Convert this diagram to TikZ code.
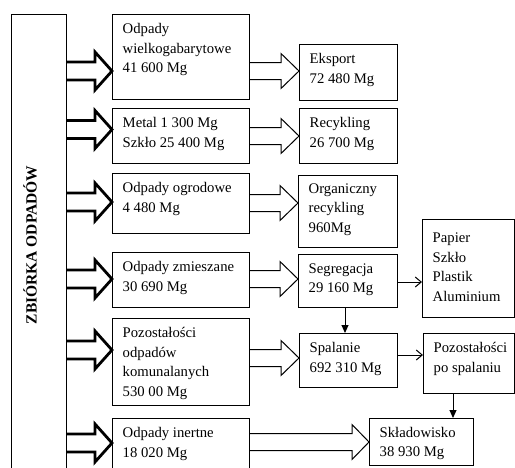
\documentclass[tikz,border=0pt]{standalone}
\usepackage{fontspec}
\setmainfont{Liberation Serif}
\usetikzlibrary{calc,arrows.meta}

% box with its text set from the top left corner
% #1 name, #2 x1, #3 y1, #4 x2, #5 y2, #6 text offset from top, #7 text
\newcommand\wbox[7]{%
  \node[box, minimum width={(#4-#2)*1pt}, minimum height={(#5-#3)*1pt},
        anchor=north west] (#1) at (#2,#3) {};
  \node[txt, anchor=north west] (#1-t) at ($(#1.north west)+(10.5,#6)$) {#7};}

% hollow block arrow: #1 style, #2 start, #3 tip, #4 body half, #5 head half, #6 head length
\newcommand\hollow[6]{%
  \draw[#1] let \p1=(#2), \p2=(#3) in
    (\x1,\y2+#4) -- (\x2-#6,\y2+#4) -- (\x2-#6,\y2+#5) -- (\x2,\y2)
    -- (\x2-#6,\y2-#5) -- (\x2-#6,\y2-#4) -- (\x1,\y2-#4);}

\begin{document}
\begin{tikzpicture}[x=1pt,y=-1pt,
  box/.style={draw, line width=1pt, inner sep=0pt, outer sep=0pt},
  txt/.style={inner sep=0pt, align=left, font=\fontsize{14.7}{19.5}\selectfont},
  bigarrow/.style={line width=2.8pt, line join=miter, miter limit=10},
  smallarrow/.style={line width=1pt, line join=miter, miter limit=10},
  flow/.style={-{Straight Barb[length=6pt,width=10pt]}, line width=1pt},
  drop/.style={-{Triangle[length=8pt,width=7pt]}, line width=1pt}]
\useasboundingbox (0,0) rectangle (515,467);
\clip (0,0) rectangle (515,467);

% collection column
\node[box, minimum width=55pt, minimum height=480pt, anchor=north west] (zb) at (11,14) {};
\node[rotate=90, inner sep=0pt, font=\bfseries\fontsize{15.5}{18}\selectfont] (zbt) at (30,245) {ZBIÓRKA ODPADÓW};

% waste streams
\wbox{b1}{112}{14}{249}{99}{9.4}{Odpady\\wielkogabarytowe\\41 600 Mg}
\wbox{b2}{112}{108}{249}{163}{9.4}{Metal 1 300 Mg\\Szkło 25 400 Mg}
\wbox{b3}{112}{173}{249}{233}{9.4}{Odpady ogrodowe\\4 480 Mg}
\wbox{b4}{112}{252}{249}{307}{9.4}{Odpady zmieszane\\30 690 Mg}
\wbox{b5}{112}{318}{249}{405}{9.4}{Pozostałości\\odpadów\\komunalanych\\530 00 Mg}
\wbox{b6}{112}{418}{249}{490}{9.4}{Odpady inertne\\18 020 Mg}

% destinations
\wbox{e}{299}{44}{397}{100}{9.4}{Eksport\\72 480 Mg}
\wbox{r}{299}{108}{397}{163}{9.4}{Recykling\\26 700 Mg}
\wbox{o}{298}{175}{397}{247}{8.4}{Organiczny\\recykling\\960Mg}
\wbox{s}{298}{254}{397}{307}{9.4}{Segregacja\\29 160 Mg}
\wbox{sp}{299}{333}{397}{387}{9.4}{Spalanie\\692 310 Mg}
\wbox{p}{422}{219}{514}{317}{14}{Papier\\Szkło\\Plastik\\Aluminium}
\wbox{ps}{423}{333}{514}{393}{9.4}{Pozostałości\\po spalaniu}
\wbox{sk}{369}{418}{473}{465}{9}{Składowisko\\38 930 Mg}

% thick block arrows from the collection column
\hollow{bigarrow}{zb.east}{b1.west |- 0,71}{9pt}{19pt}{17pt}
\hollow{bigarrow}{zb.east}{b2.west |- 0,129.5}{9pt}{19pt}{17pt}
\hollow{bigarrow}{zb.east}{b3.west |- 0,202}{9pt}{19pt}{17pt}
\hollow{bigarrow}{zb.east}{b4.west |- 0,279}{9pt}{19pt}{17pt}
\hollow{bigarrow}{zb.east}{b5.west |- 0,350}{9pt}{19pt}{17pt}
\hollow{bigarrow}{zb.east}{b6.west |- 0,443}{9pt}{19pt}{17pt}

% thin block arrows to the destinations
\hollow{smallarrow}{b1.east}{e.west |- 0,71}{8.5pt}{17.5pt}{18pt}
\hollow{smallarrow}{b2.east}{r.west |- 0,136}{8.5pt}{17.5pt}{18pt}
\hollow{smallarrow}{b3.east}{o.west |- 0,203}{8.5pt}{17.5pt}{18pt}
\hollow{smallarrow}{b4.east}{s.west |- 0,279}{8.5pt}{17.5pt}{18pt}
\hollow{smallarrow}{b5.east}{sp.west |- 0,358}{8.5pt}{17.5pt}{18pt}
\hollow{smallarrow}{b6.east}{sk.west |- 0,442}{8.5pt}{17.5pt}{17pt}

% line connectors
\draw[flow] (s.east |- 0,282) -- (p.west |- 0,282);
\draw[drop] (s.south -| 345,0) -- (sp.north -| 345,0);
\draw[flow] (sp.east |- 0,355) -- (ps.west |- 0,355);
\draw[drop] (ps.south -| 453,0) -- (sk.north -| 453,0);
\end{tikzpicture}
\end{document}
